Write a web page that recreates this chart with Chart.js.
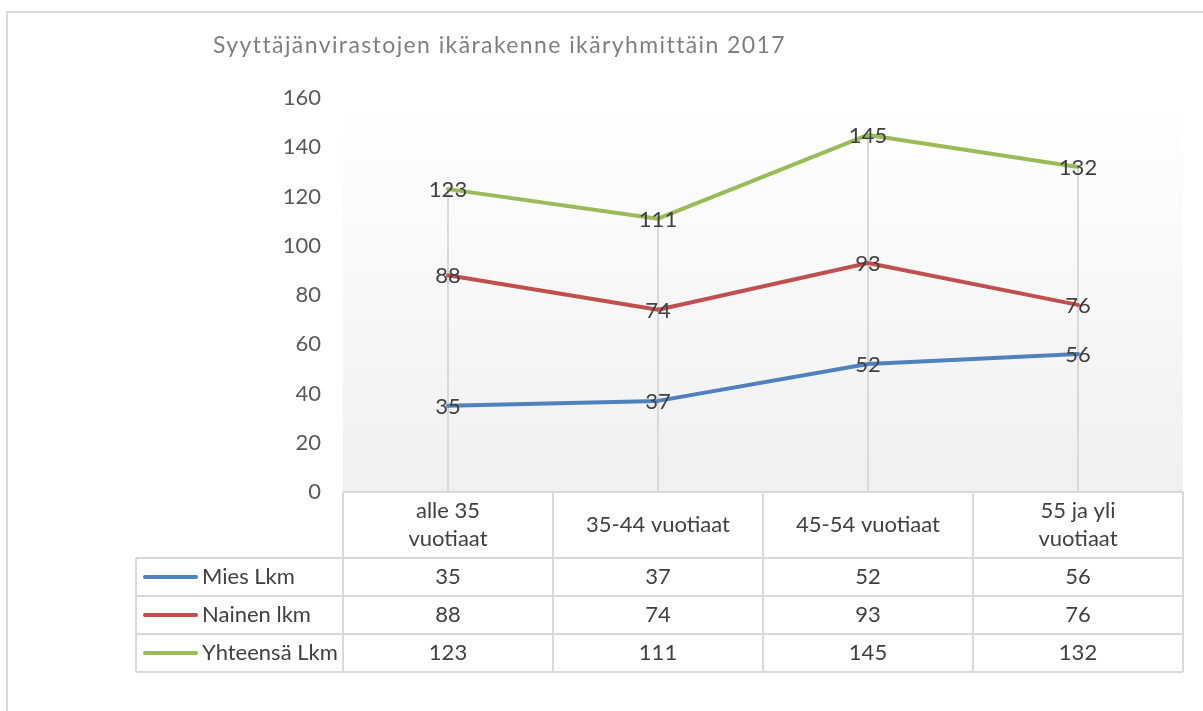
<!DOCTYPE html>
<html>
<head>
<meta charset="utf-8">
<script src="https://cdn.jsdelivr.net/npm/chart.js@4/dist/chart.umd.min.js"></script>
<style>
  body { margin: 0; background: #fff; }
  canvas { display: block; }
</style>
</head>
<body>
<canvas id="chart" width="1203" height="711"></canvas>
<script>
const chartTitle = 'Syyttäjänvirastojen ikärakenne ikäryhmittäin 2017';
const categories = [['alle 35', 'vuotiaat'], '35-44 vuotiaat', '45-54 vuotiaat', ['55 ja yli', 'vuotiaat']];
const seriesNames = ['Mies Lkm', 'Nainen lkm', 'Yhteensä Lkm'];
const miesLkm = [35, 37, 52, 56];
const nainenLkm = [88, 74, 93, 76];
const yhteensaLkm = [123, 111, 145, 132];
const yMin = 0;
const yMax = 160;
const yStep = 20;

const colors = ['#4f81bd', '#c0504d', '#9bbb59'];
const FONT = 'Lato, "Open Sans", sans-serif';
const textColor = '#404040';
const gridColor = '#d9d9d9';

// background, drop lines, data labels, title and data table
const excelStuff = {
    id: 'excelStuff',
    beforeDatasetsDraw(chart) {
        const ctx = chart.ctx;
        const area = chart.chartArea;
        const x = chart.scales.x;
        const y = chart.scales.y;

        const grad = ctx.createLinearGradient(0, area.top, 0, area.bottom);
        grad.addColorStop(0, '#ffffff');
        grad.addColorStop(1, '#f0f0f0');
        ctx.save();
        ctx.fillStyle = grad;
        ctx.fillRect(area.left, area.top, area.right - area.left, area.bottom - area.top);

        // drop lines from the highest point of each category
        ctx.strokeStyle = gridColor;
        ctx.lineWidth = 2;
        categories.forEach((c, i) => {
            const top = Math.max(miesLkm[i], nainenLkm[i], yhteensaLkm[i]);
            const px = Math.round(x.getPixelForValue(i));
            ctx.beginPath();
            ctx.moveTo(px, y.getPixelForValue(top));
            ctx.lineTo(px, area.bottom);
            ctx.stroke();
        });
        ctx.restore();
    },
    afterDatasetsDraw(chart) {
        const ctx = chart.ctx;
        ctx.save();
        ctx.font = '22px ' + FONT;
        ctx.fillStyle = textColor;
        ctx.textAlign = 'center';
        ctx.textBaseline = 'middle';
        chart.data.datasets.forEach((ds, di) => {
            const meta = chart.getDatasetMeta(di);
            meta.data.forEach((pt, i) => {
                ctx.fillText(String(ds.data[i]), pt.x, pt.y + 1);
            });
        });
        ctx.restore();
    },
    afterDraw(chart) {
        const ctx = chart.ctx;
        const area = chart.chartArea;
        const x = chart.scales.x;

        ctx.save();
        // outer frame
        ctx.strokeStyle = gridColor;
        ctx.lineWidth = 2;
        ctx.strokeRect(7, 12, 1220, 720);

        // title
        ctx.save();
        ctx.font = '23px ' + FONT;
        ctx.fillStyle = '#7f7f7f';
        ctx.textAlign = 'left';
        ctx.textBaseline = 'middle';
        if ('letterSpacing' in ctx) ctx.letterSpacing = '1.4px';
        ctx.fillText(chartTitle, 213, 46);
        ctx.restore();

        // data table
        const step = x.getPixelForValue(1) - x.getPixelForValue(0);
        const edges = categories.map((c, i) => x.getPixelForValue(i) - step / 2);
        edges.push(x.getPixelForValue(categories.length - 1) + step / 2);
        const tableLeft = 136;
        const headTop = area.bottom;
        const headBottom = headTop + 66;
        const rowH = 38;
        const tableBottom = headBottom + rowH * seriesNames.length;

        ctx.strokeStyle = gridColor;
        ctx.lineWidth = 2;
        ctx.beginPath();
        ctx.moveTo(edges[0], headTop);
        ctx.lineTo(edges[edges.length - 1], headTop);
        for (let r = 0; r <= seriesNames.length; r++) {
            const yy = headBottom + r * rowH;
            ctx.moveTo(tableLeft, yy);
            ctx.lineTo(edges[edges.length - 1], yy);
        }
        edges.forEach(e => {
            ctx.moveTo(e, headTop);
            ctx.lineTo(e, tableBottom);
        });
        ctx.moveTo(tableLeft, headBottom);
        ctx.lineTo(tableLeft, tableBottom);
        ctx.stroke();

        ctx.font = '22px ' + FONT;
        ctx.fillStyle = textColor;
        ctx.textAlign = 'center';
        ctx.textBaseline = 'middle';
        categories.forEach((c, i) => {
            const cx = x.getPixelForValue(i);
            const lines = Array.isArray(c) ? c : [c];
            const mid = (headTop + headBottom) / 2;
            lines.forEach((l, k) => {
                ctx.fillText(l, cx, mid + (k - (lines.length - 1) / 2) * 28);
            });
        });

        const rows = [miesLkm, nainenLkm, yhteensaLkm];
        rows.forEach((vals, r) => {
            const cy = headBottom + r * rowH + rowH / 2;
            // legend key
            ctx.strokeStyle = colors[r];
            ctx.lineWidth = 4;
            ctx.lineCap = 'round';
            ctx.beginPath();
            ctx.moveTo(145, cy);
            ctx.lineTo(196, cy);
            ctx.stroke();
            ctx.textAlign = 'left';
            ctx.fillText(seriesNames[r], 202, cy);
            ctx.textAlign = 'center';
            vals.forEach((v, i) => {
                ctx.fillText(String(v), x.getPixelForValue(i), cy);
            });
        });
        ctx.restore();
    }
};

const ctx = document.getElementById('chart').getContext('2d');

new Chart(ctx, {
    type: 'line',
    data: {
        labels: categories,
        datasets: [
            { label: seriesNames[0], data: miesLkm, borderColor: colors[0] },
            { label: seriesNames[1], data: nainenLkm, borderColor: colors[1] },
            { label: seriesNames[2], data: yhteensaLkm, borderColor: colors[2] }
        ].map(d => Object.assign(d, {
            borderWidth: 4,
            pointRadius: 0,
            tension: 0,
            fill: false,
            borderJoinStyle: 'round',
            borderCapStyle: 'round'
        }))
    },
    options: {
        responsive: false,
        animation: false,
        layout: { padding: { left: 0, right: 20, top: 98, bottom: 219 } },
        plugins: {
            legend: { display: false },
            title: { display: false },
            tooltip: { enabled: false }
        },
        scales: {
            x: { type: 'category', offset: true, display: false },
            y: {
                min: yMin,
                max: yMax,
                ticks: {
                    stepSize: yStep,
                    color: '#595959',
                    font: { family: FONT, size: 22 },
                    padding: 22
                },
                grid: { display: false, drawTicks: false },
                border: { display: false },
                afterFit: s => { s.width = 343; }
            }
        }
    },
    plugins: [excelStuff]
});
</script>
</body>
</html>
